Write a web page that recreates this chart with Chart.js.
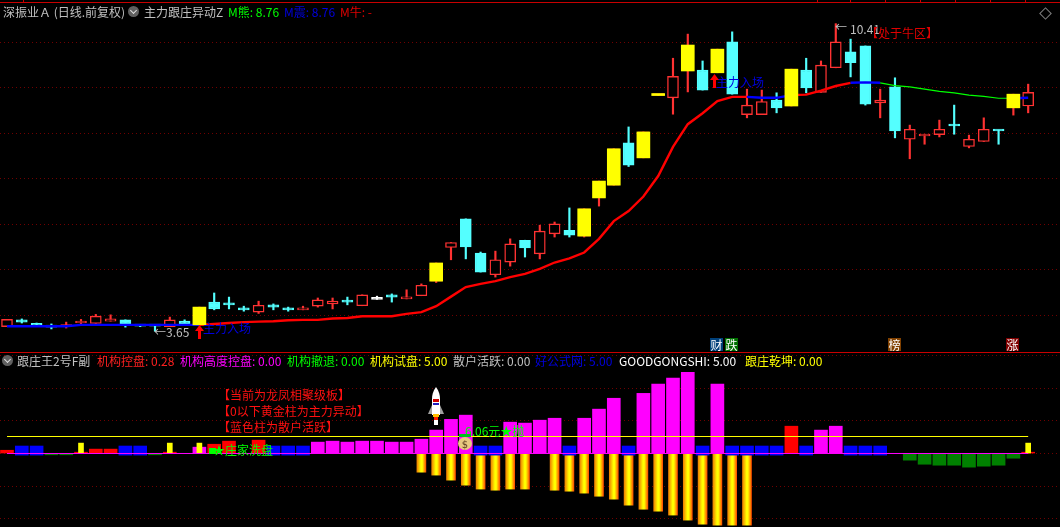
<!DOCTYPE html>
<html>
<head>
<meta charset="utf-8">
<script src="https://cdn.jsdelivr.net/npm/chart.js@4/dist/chart.umd.min.js"></script>
<style>
  html, body { margin: 0; padding: 0; background: #000; width: 1060px; height: 527px; overflow: hidden; }
  canvas { position: absolute; left: 0; }
  #mainChart { top: 0; }
  #subChart { top: 352px; }
  .t { position: absolute; white-space: pre; font: 12px/14px "Noto Sans CJK SC", sans-serif; color: #c0c0c0; }
  .rule { position: absolute; background: #c80000; }
  .badge { position: absolute; top: 338px; width: 13px; height: 13px; color: #fff; text-align: center; font: 12px/13px "Noto Sans CJK SC", sans-serif; }
  .icon { position: absolute; width: 11px; height: 11px; border-radius: 50%; background: #606060; }
  .icon:after { content: ""; position: absolute; left: 3px; top: 2px; width: 4px; height: 4px; border-right: 1px solid #ddd; border-bottom: 1px solid #ddd; transform: rotate(45deg); }
</style>
</head>
<body>
<canvas id="mainChart" width="1060" height="352"></canvas>
<canvas id="subChart" width="1060" height="175"></canvas>

<!-- pane borders -->
<div class="rule" style="left:0;top:2px;width:1060px;height:1px"></div>
<div class="rule" style="left:0;top:352px;width:1060px;height:1px"></div>
<div class="rule" style="left:23px;top:0;width:1px;height:2px"></div>
<div class="rule" style="left:817px;top:0;width:1px;height:2px"></div>
<div class="rule" style="left:850px;top:0;width:1px;height:2px"></div>
<div class="rule" style="left:885px;top:0;width:1px;height:2px"></div>
<div class="rule" style="left:920px;top:0;width:1px;height:2px"></div>
<div class="rule" style="left:955px;top:0;width:1px;height:2px"></div>
<div class="rule" style="left:990px;top:0;width:1px;height:2px"></div>
<div class="rule" style="left:1025px;top:0;width:1px;height:2px"></div>
<div style="position:absolute;left:1041px;top:9px;width:7px;height:7px;border:1px solid #808080;transform:rotate(45deg)"></div>

<!-- main pane header -->
<span class="t" style="left:3px;top:5px">深振业Ａ (日线.前复权)</span>
<div class="icon" style="left:128px;top:6px"></div>
<span class="t" style="left:144px;top:5px">主力跟庄异动Z</span>
<span class="t" style="left:228px;top:5px;color:#00ff00">M熊: 8.76</span>
<span class="t" style="left:284px;top:5px;color:#0000e0">M震: 8.76</span>
<span class="t" style="left:340px;top:5px;color:#e00000">M牛: -</span>

<!-- main pane notes -->
<span class="t" style="left:835px;top:20px">←</span>
<span class="t" style="left:850px;top:22px">10.41</span>
<span class="t" style="left:866px;top:26px;color:#e00000">【处于牛区】</span>
<span class="t" style="left:154px;top:325px">←3.65</span>
<span class="t" style="left:203px;top:321px;color:#0000e0">主力入场</span>
<span class="t" style="left:716px;top:75px;color:#0000e0">主力入场</span>
<svg style="position:absolute;left:194px;top:325px" width="11" height="14"><path d="M5.5 0L10 6H7V14H4V6H1Z" fill="#ff0000"/></svg>
<svg style="position:absolute;left:709px;top:74px" width="11" height="14"><path d="M5.5 0L10 6H7V14H4V6H1Z" fill="#ff0000"/></svg>

<span class="badge" style="left:710px;background:#00407a">财</span>
<span class="badge" style="left:725px;background:#007000">跌</span>
<span class="badge" style="left:888px;background:#804000">榜</span>
<span class="badge" style="left:1006px;background:#800000">涨</span>

<!-- sub pane header -->
<div class="icon" style="left:2px;top:355px"></div>
<span class="t" style="left:17px;top:354px">跟庄王2号F副</span>
<span class="t" style="left:97px;top:354px;color:#ff2020">机构控盘: 0.28</span>
<span class="t" style="left:180px;top:354px;color:#ff00ff">机构高度控盘: 0.00</span>
<span class="t" style="left:287px;top:354px;color:#00ff00">机构撤退: 0.00</span>
<span class="t" style="left:370px;top:354px;color:#ffff00">机构试盘: 5.00</span>
<span class="t" style="left:453px;top:354px">散户活跃: 0.00</span>
<span class="t" style="left:535px;top:354px;color:#0000e0">好公式网: 5.00</span>
<span class="t" style="left:619px;top:354px;color:#fff">GOODGONGSHI: 5.00</span>
<span class="t" style="left:745px;top:354px;color:#ffff00">跟庄乾坤: 0.00</span>

<!-- sub pane notes -->
<span class="t" style="left:218px;top:388px;color:#ff1010">【当前为龙凤相聚级板】</span>
<span class="t" style="left:218px;top:404px;color:#ff1010">【0以下黄金柱为主力异动】</span>
<span class="t" style="left:218px;top:420px;color:#ff1010">【蓝色柱为散户活跃】</span>
<div style="position:absolute;left:209px;top:448px;width:7px;height:6px;background:#00ff00"></div>
<span class="t" style="left:213px;top:443px;color:#00ff00">★庄家洗盘</span>
<span class="t" style="left:465px;top:424px;color:#00ff00">6.06元★抛</span>

<!-- rocket -->
<svg style="position:absolute;left:427px;top:387px" width="18" height="39">
  <path d="M1 27L5 18H13L17 27Z" fill="#a0a0a0"/>
  <path d="M9 0C6 4 5 8 5 12V28H13V12C13 8 12 4 9 0Z" fill="#fff"/>
  <rect x="6" y="12" width="6" height="3" fill="#d00000"/>
  <rect x="6" y="16" width="6" height="2" fill="#2020c0"/>
  <rect x="7" y="28" width="4" height="5" fill="#ff2000"/>
  <rect x="6" y="27" width="6" height="3" fill="#ffc000"/>
  <rect x="7" y="33" width="4" height="5" fill="#fff"/>
</svg>
<!-- money bag -->
<svg style="position:absolute;left:458px;top:434px" width="14" height="16">
  <rect x="1" y="0" width="12" height="3" fill="#00c020"/>
  <ellipse cx="7" cy="9.5" rx="7" ry="6.5" fill="#e8c880"/>
  <text x="7" y="13.5" text-anchor="middle" font-size="10" font-family="DejaVu Sans" fill="#604020">$</text>
</svg>

<script>
// Price candles
var opens = [3.75,3.90,3.81,3.77,3.75,3.83,3.82,3.87,3.90,3.79,
    3.78,3.75,3.87,3.79,4.29,4.27,4.15,4.07,4.23,4.16,
    4.12,4.20,4.25,4.31,4.21,4.35,4.45,4.36,4.43,4.75,
    5.49,6.12,5.37,4.89,5.17,5.65,5.35,5.79,5.87,5.74,
    6.58,6.86,7.79,7.46,8.83,8.78,9.37,9.39,9.33,10.01,
    8.41,8.41,8.73,8.60,9.39,8.90,9.44,9.79,9.92,8.67,
    9.02,7.87,7.94,7.97,8.20,7.71,7.82,8.07,8.56,8.60];
var closes = [3.91,3.85,3.78,3.74,3.78,3.87,3.98,3.92,3.81,3.76,
    3.76,3.90,3.81,4.18,4.14,4.23,4.12,4.22,4.18,4.12,
    4.16,4.34,4.31,4.29,4.45,4.35,4.40,4.40,4.66,5.15,
    5.60,5.50,4.95,5.22,5.57,5.48,5.85,6.01,5.76,6.34,
    6.95,7.66,7.30,8.03,8.85,9.25,9.94,8.95,9.85,8.86,
    8.62,8.70,8.56,9.41,9.00,9.50,10.01,9.55,8.64,8.73,
    8.05,8.09,7.98,8.09,8.16,7.87,8.09,8.05,8.86,8.90];
var highs = [3.91,3.92,3.83,3.81,3.85,3.91,4.02,4.01,3.90,3.80,
    3.79,3.96,3.90,4.18,4.49,4.40,4.20,4.31,4.25,4.18,
    4.20,4.38,4.38,4.40,4.45,4.42,4.47,4.56,4.69,5.15,
    5.60,6.12,5.39,5.41,5.68,5.65,5.98,6.05,6.36,6.34,
    6.95,7.66,8.14,8.03,8.85,9.65,10.18,9.59,9.85,10.23,
    8.97,8.95,8.89,9.41,9.65,9.59,10.41,10.07,9.92,8.97,
    9.22,8.18,7.98,8.29,8.62,7.96,8.34,8.07,8.86,9.08];
var lows = [3.75,3.83,3.76,3.70,3.72,3.80,3.82,3.87,3.74,3.75,
    3.65,3.75,3.81,3.79,4.12,4.14,4.09,4.04,4.12,4.09,
    4.12,4.18,4.14,4.23,4.21,4.35,4.29,4.36,4.43,4.72,
    5.22,5.24,4.95,4.84,5.08,5.28,5.24,5.72,5.72,5.72,
    6.40,6.86,7.27,7.46,8.83,8.42,8.91,8.95,9.33,8.86,
    8.34,8.41,8.45,8.60,8.89,8.90,9.44,9.24,8.62,8.34,
    7.90,7.44,7.76,7.92,7.98,7.68,7.82,7.76,8.40,8.45];
// Candles painted over in yellow
var yellowCandles = [13,29,39,40,41,43,44,46,48,53,68];

// Trend line and the colour of the segment leaving each point
var trendLine = [3.76,3.76,3.76,3.76,3.76,3.79,3.79,3.79,3.79,3.79,
    3.79,3.79,3.79,3.79,3.81,3.83,3.85,3.86,3.87,3.89,
    3.90,3.90,3.93,3.94,3.98,3.98,3.98,4.03,4.07,4.20,
    4.41,4.62,4.69,4.75,4.84,4.91,5.02,5.16,5.25,5.38,
    5.68,6.07,6.29,6.61,7.06,7.70,8.20,8.44,8.71,8.80,
    8.80,8.78,8.78,8.84,8.85,8.94,9.04,9.11,9.12,9.11,
    9.05,9.02,8.97,8.92,8.89,8.84,8.81,8.77,8.77,8.78];
var trendColors = ["b","b","b","b","b","b","b","b","b","b",
    "b","b","b","r","r","r","r","r","r","r",
    "r","r","r","r","r","r","r","r","r","r",
    "r","r","r","r","r","r","r","r","r","r",
    "r","r","r","r","r","r","r","r","r","r",
    "b","b","b","r","r","r","r","b","b","g",
    "g","g","g","g","g","g","g","g","b","b"];

// Indicator bars
var magentaBars = [null,null,null,null,null,null,null,null,null,null,
    null,null,null,3.9,null,null,null,null,null,null,
    null,7,7.6,7,7.6,7.6,7,7,8.8,14.4,
    21,23.6,null,null,19.3,18.7,20.5,21.7,null,21.7,
    27.3,34,null,37,42.7,46.4,50,null,42.7,null,
    null,null,null,null,null,14.4,16.8,null,null,null,
    null,null,null,null,null,null,null,null,null,null];
var redBars = [2,null,null,null,null,0.8,2.7,2.7,null,null,
    null,0.8,null,null,5.7,7.6,null,8.2,null,null,
    null,null,null,null,null,null,null,null,null,null,
    null,null,null,null,null,null,null,null,null,null,
    null,null,null,null,null,null,null,null,null,null,
    null,null,null,16.8,null,null,null,null,null,null,
    null,null,null,null,null,null,null,null,null,0.8];
var blueBars = [null,4.6,4.6,null,null,null,null,null,4.6,4.6,
    null,null,null,null,null,null,null,null,4.6,4.6,
    4.6,null,null,null,null,null,null,null,null,null,
    null,null,4.6,4.6,null,null,null,null,4.6,null,
    null,null,4.6,null,null,null,null,4.6,null,4.6,
    4.6,4.6,4.6,null,4.6,null,null,4.6,4.6,4.6,
    null,null,null,null,null,null,null,null,null,null];
var greenBars = [null,null,null,-0.8,-0.8,null,null,null,null,null,
    -0.8,null,null,null,null,null,null,null,null,null,
    null,null,null,null,null,null,null,null,null,null,
    null,null,null,null,null,null,null,null,null,null,
    null,null,null,null,null,null,null,null,null,null,
    null,null,null,null,null,null,null,null,null,null,
    null,-4.1,-6.6,-7.2,-7.2,-8.4,-7.8,-7.2,-2.9,null];
var goldBars = [null,null,null,null,null,null,null,null,null,null,
    null,null,null,null,null,null,null,null,null,null,
    null,null,null,null,null,null,null,null,-11.5,-13.3,
    -16.4,-19.5,-21.9,-22.6,-21.9,-21.9,null,-22.6,-23.2,-24.4,
    -26.3,-28.1,-31.8,-34.3,-35.5,-37.9,-41,-43.5,-44.1,-44.1,
    -44.1,null,null,null,null,null,null,null,null,null,
    null,null,null,null,null,null,null,null,null,null];
var yellowTicks = [null,null,null,null,null,6.4,null,null,null,null,
    null,6.4,null,6.4,null,null,null,null,null,null,
    null,null,null,null,null,null,null,null,null,null,
    null,null,null,null,null,null,null,null,null,null,
    null,null,null,null,null,null,null,null,null,null,
    null,null,null,null,null,null,null,null,null,null,
    null,null,null,null,null,null,null,null,null,6.4];
var blueBase = -1;
var signalLevel = 10.46;
var lastIndex = 69;

// Axis ranges, chosen so the gridlines land where they do in the picture
var priceMin = 3.193, priceMax = 10.93;
var subMin = -45.23, subMax = 62.46;
var xMin = -0.473, xMax = 71.15;

var RED = "#ff3232", CYAN = "#54ffff", YELLOW = "#ffff00";
var lineColors = { b: "#0000ff", r: "#ff0000", g: "#00ff00" };

function candleColor(i) {
    if (closes[i] > opens[i]) return RED;
    if (closes[i] < opens[i]) return CYAN;
    return "#ffffff";
}

// Turn a value list into {x, y} points, leaving the empty ones out
function toPoints(values) {
    var points = [];
    for (var i = 0; i < values.length; i++) {
        if (values[i] !== null) points.push({ x: i, y: values[i] });
    }
    return points;
}

function paneOptions(yMin, yMax, step) {
    return {
        responsive: false,
        animation: false,
        devicePixelRatio: 1,
        layout: { padding: 0 },
        plugins: { legend: { display: false }, tooltip: { enabled: false } },
        scales: {
            // bar charts default to offset:true, which would shift the range
            x: { type: "linear", display: false, offset: false, min: xMin, max: xMax },
            y: {
                min: yMin,
                max: yMax,
                ticks: { display: false, stepSize: step, includeBounds: false },
                grid: { color: "#700000", drawTicks: false },
                border: { display: false, dash: [1, 3] }
            }
        }
    };
}

var wicks = highs.map(function (h, i) { return { x: i, y: [lows[i], h] }; });
var bodies = opens.map(function (o, i) { return { x: i, y: [o, closes[i]] }; });
var yellowBodies = yellowCandles.map(function (i) { return { x: i, y: [opens[i], closes[i]] }; });

new Chart(document.getElementById("mainChart"), {
    type: "bar",
    data: {
        datasets: [
            {
                label: "wicks", data: wicks, order: 5, grouped: false, barThickness: 1.5,
                backgroundColor: highs.map(function (h, i) { return candleColor(i); })
            },
            {
                label: "bodies", data: bodies, order: 4, grouped: false, barThickness: 11,
                minBarLength: 2, borderWidth: 1.4, borderSkipped: false,
                borderColor: opens.map(function (o, i) { return candleColor(i); }),
                backgroundColor: opens.map(function (o, i) { return closes[i] > o ? "#000000" : candleColor(i); })
            },
            {
                type: "line", label: "trend", order: 3, pointRadius: 0, tension: 0,
                data: trendLine.map(function (v, i) { return { x: i, y: v }; }),
                borderColor: "#ff0000", borderWidth: 2,
                segment: {
                    borderColor: function (c) { return lineColors[trendColors[c.p0DataIndex]]; },
                    borderWidth: function (c) { return trendColors[c.p0DataIndex] == "g" ? 1.2 : 2.4; }
                }
            },
            {
                label: "yellow", data: yellowBodies, order: 2, grouped: false, barThickness: 13,
                minBarLength: 2, backgroundColor: YELLOW
            }
        ]
    },
    options: paneOptions(priceMin, priceMax, 1)
});

// Gold bars fade from orange at the edges to yellow in the middle
function goldFill(context) {
    var chart = context.chart;
    var x = context.parsed ? chart.scales.x.getPixelForValue(context.parsed.x) : NaN;
    if (!isFinite(x)) return "#ffa000";
    var g = chart.ctx.createLinearGradient(x - 4.5, 0, x + 4.5, 0);
    g.addColorStop(0, "#f08000");
    g.addColorStop(0.45, "#ffff00");
    g.addColorStop(0.6, "#ffff00");
    g.addColorStop(1, "#ff5000");
    return g;
}

new Chart(document.getElementById("subChart"), {
    type: "bar",
    data: {
        datasets: [
            { label: "gold", data: toPoints(goldBars), order: 7, grouped: false, barThickness: 9, backgroundColor: goldFill },
            { label: "magenta", data: toPoints(magentaBars), order: 6, grouped: false, barThickness: 13, backgroundColor: "#ff00ff" },
            { label: "red", data: toPoints(redBars), order: 6, grouped: false, barThickness: 13, backgroundColor: "#ff0000" },
            { label: "green", data: toPoints(greenBars), order: 6, grouped: false, barThickness: 13, backgroundColor: "#008000" },
            {
                label: "blue", order: 5, grouped: false, barThickness: 13, backgroundColor: "#0000ff",
                data: toPoints(blueBars).map(function (p) { return { x: p.x, y: [blueBase, p.y] }; })
            },
            { label: "ticks", data: toPoints(yellowTicks), order: 4, grouped: false, barThickness: 5, backgroundColor: YELLOW },
            {
                type: "line", label: "signal", order: 3, pointRadius: 0, borderWidth: 1, borderColor: YELLOW,
                data: [{ x: 0, y: signalLevel }, { x: lastIndex, y: signalLevel }]
            },
            {
                type: "line", label: "zero", order: 2, pointRadius: 0, borderWidth: 1, borderColor: "#ff00ff",
                data: [{ x: 0, y: 0 }, { x: lastIndex, y: 0 }]
            }
        ]
    },
    options: paneOptions(subMin, subMax, 20)
});
</script>
</body>
</html>
